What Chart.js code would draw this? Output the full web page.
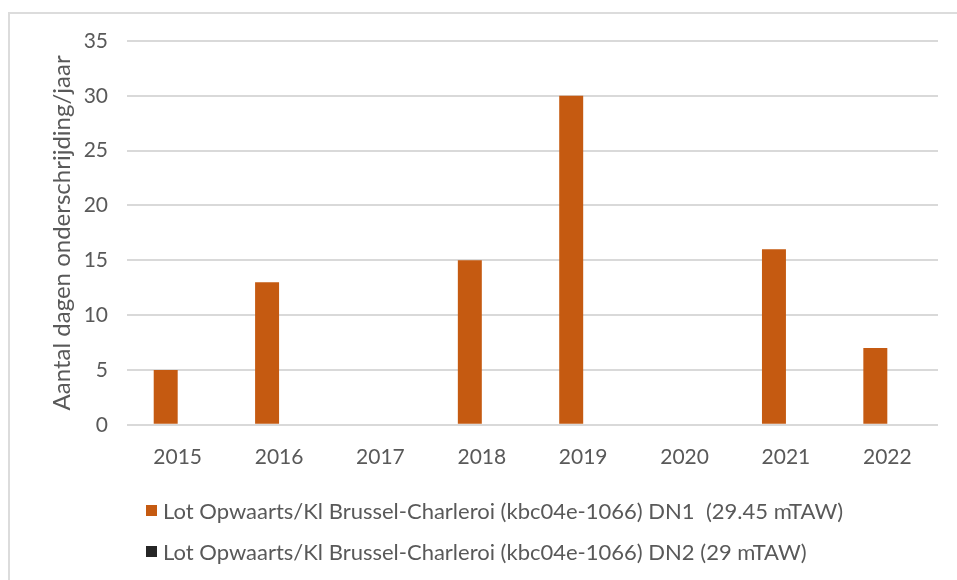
<!DOCTYPE html>
<html>
<head>
<meta charset="utf-8">
<script src="https://cdn.jsdelivr.net/npm/chart.js@4.4.1/dist/chart.umd.min.js"></script>
<style>
  html, body { margin: 0; padding: 0; background: #fff; }
  body { width: 957px; height: 580px; position: relative; overflow: hidden; font-family: Lato, "Open Sans", sans-serif; }
  #frame { position: absolute; left: 8px; top: 12px; right: -4px; bottom: -4px; border-top: 2px solid #dcdcdc; border-left: 2px solid #dcdcdc; }
  #wrap { position: absolute; left: 0; top: 0; width: 957px; height: 580px; }
  #legend { position: absolute; left: 146px; top: 498px; }
  .item { display: flex; align-items: center; height: 24px; margin-bottom: 17px; color: #595959; font-size: 22px; white-space: pre; }
  .box { width: 11px; height: 11px; margin-right: 6px; }
</style>
</head>
<body>
<div id="frame"></div>
<div id="wrap"><canvas id="myChart" width="957" height="580"></canvas></div>
<div id="legend"></div>
<script>
const years = ['2015', '2016', '2017', '2018', '2019', '2020', '2021', '2022'];
const dn1 = [5, 13, 0, 15, 30, 0, 16, 7];
const dn2 = [0, 0, 0, 0, 0, 0, 0, 0];
const seriesNames = [
  'Lot Opwaarts/Kl Brussel-Charleroi (kbc04e-1066) DN1  (29.45 mTAW)',
  'Lot Opwaarts/Kl Brussel-Charleroi (kbc04e-1066) DN2 (29 mTAW)'
];
const seriesColors = ['#c55a11', '#262626'];
const yTitle = 'Aantal dagen onderschrijding/jaar';

const grey = '#595959';

const data = {
  labels: years,
  datasets: [{
    label: seriesNames[0],
    data: dn1,
    backgroundColor: seriesColors[0]
  }, {
    label: seriesNames[1],
    data: dn2,
    backgroundColor: seriesColors[1]
  }]
};

const config = {
  type: 'bar',
  data: data,
  options: {
    responsive: false,
    animation: false,
    layout: { padding: { left: 48, right: 19, top: 41, bottom: 98 } },
    datasets: { bar: { categoryPercentage: 0.473, barPercentage: 1 } },
    plugins: { legend: { display: false }, tooltip: { enabled: false } },
    scales: {
      x: {
        grid: { display: false },
        border: { display: false },
        ticks: { color: grey, font: { family: 'Lato', size: 21 }, padding: 12 }
      },
      y: {
        min: 0,
        max: 35,
        ticks: { stepSize: 5, color: grey, font: { family: 'Lato', size: 21 }, padding: 19 },
        grid: { color: '#d9d9d9', lineWidth: 2, drawTicks: false },
        border: { display: false },
        title: { display: true, text: yTitle, color: grey, font: { family: 'Lato', size: 24 }, padding: 0 },
        afterFit: function(scale) { scale.width = 79; }
      }
    }
  }
};

const myChart = new Chart(document.getElementById('myChart'), config);

// legend drawn as html, rows left aligned
const legend = document.getElementById('legend');
for (let ds of myChart.data.datasets) {
  let row = document.createElement('div');
  row.className = 'item';
  let box = document.createElement('span');
  box.className = 'box';
  box.style.background = ds.backgroundColor;
  row.appendChild(box);
  row.appendChild(document.createTextNode(ds.label));
  legend.appendChild(row);
}
</script>
</body>
</html>
